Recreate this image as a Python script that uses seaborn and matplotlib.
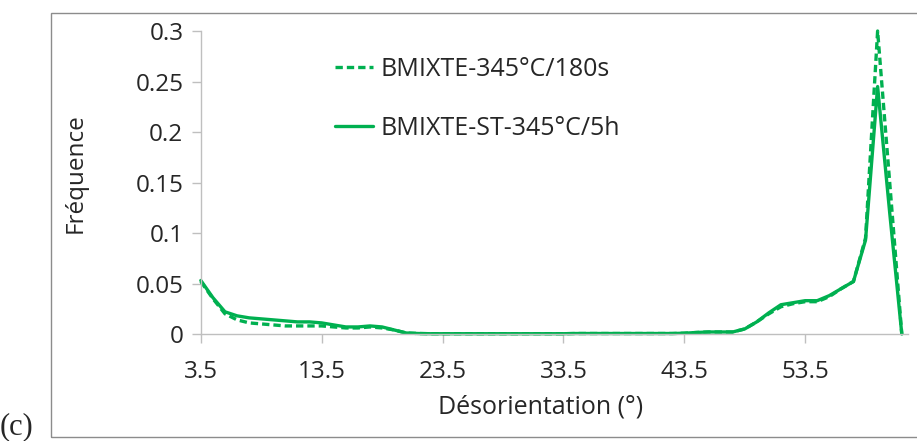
import numpy as np
import pandas as pd
import matplotlib
matplotlib.use("Agg")
import matplotlib.pyplot as plt
import seaborn as sns
from matplotlib.patches import Rectangle

# -------------------------------
# Data
# -------------------------------
angles = np.arange(3.5, 62.0, 1.0)  # 3.5 ... 61.5

freq_180s = [0.052, 0.035, 0.020, 0.014, 0.011, 0.010, 0.009, 0.008, 0.008, 0.008,
             0.008, 0.007, 0.006, 0.006, 0.007, 0.006, 0.004, 0.001, 0.0005, 0.0003,
             0.0003, 0.0003, 0.0003, 0.0003, 0.0003, 0.0003, 0.0003, 0.0003, 0.0003, 0.0003,
             0.0003, 0.0005, 0.0005, 0.0005, 0.0005, 0.0005, 0.0005, 0.0005, 0.0005, 0.0005,
             0.0008, 0.0015, 0.002, 0.002, 0.002, 0.005, 0.012, 0.020, 0.027, 0.030,
             0.032, 0.032, 0.037, 0.045, 0.052, 0.095, 0.300, 0.150, 0.0]

freq_5h = [0.053, 0.036, 0.022, 0.018, 0.016, 0.015, 0.014, 0.013, 0.012, 0.012,
           0.011, 0.009, 0.007, 0.007, 0.008, 0.007, 0.004, 0.001, 0.0005, 0.0003,
           0.0003, 0.0003, 0.0003, 0.0003, 0.0003, 0.0003, 0.0003, 0.0003, 0.0003, 0.0003,
           0.0003, 0.0005, 0.0005, 0.0005, 0.0005, 0.0005, 0.0005, 0.0005, 0.0005, 0.0005,
           0.0008, 0.0015, 0.002, 0.002, 0.002, 0.005, 0.012, 0.021, 0.029, 0.031,
           0.033, 0.033, 0.038, 0.045, 0.052, 0.093, 0.245, 0.120, 0.0]

label_180s = "BMIXTE-345°C/180s"
label_5h = "BMIXTE-ST-345°C/5h"
xticks = [3.5, 13.5, 23.5, 33.5, 43.5, 53.5]
yticks = [0, 0.05, 0.1, 0.15, 0.2, 0.25, 0.3]
ytick_labels = ["0", "0.05", "0.1", "0.15", "0.2", "0.25", "0.3"]

df = pd.DataFrame({"angle": angles, "f180": freq_180s, "f5h": freq_5h})

# -------------------------------
# Plot
# -------------------------------
sns.set_style("white")
plt.rcParams["font.family"] = ["Open Sans", "DejaVu Sans"]

green = "#00B050"
fig = plt.figure(figsize=(9.17, 4.41), dpi=100)
ax = fig.add_axes([0.219, 0.2426, 0.771, 0.6871])

sns.lineplot(data=df, x="angle", y="f180", ax=ax, color=green, lw=2.4,
             linestyle=(0, (2.2, 1.2)), label=label_180s, clip_on=False)
sns.lineplot(data=df, x="angle", y="f5h", ax=ax, color=green, lw=2.4,
             label=label_5h, clip_on=False)

ax.set_xlim(3.5, 62)
ax.set_ylim(0, 0.3)
ax.set_xticks(xticks)
ax.set_xticklabels([str(t) for t in xticks])
ax.set_yticks(yticks)
ax.set_yticklabels(ytick_labels)

for s in ["top", "right"]:
    ax.spines[s].set_visible(False)
for s in ["left", "bottom"]:
    ax.spines[s].set_color("#bfbfbf")
    ax.spines[s].set_linewidth(1)

ax.tick_params(axis="x", bottom=True, direction="out", length=6.5, width=1,
               color="#bfbfbf", labelsize=17.5, pad=12)
ax.tick_params(axis="y", left=True, direction="out", length=6.5, width=1,
               color="#bfbfbf", labelsize=17.5, pad=6)

ax.set_xlabel("Désorientation (°)", fontsize=18)
ax.set_ylabel("Fréquence", fontsize=17.5)
ax.xaxis.set_label_coords(0.48, -0.2)
ax.yaxis.set_label_coords(-0.16, 0.53)

leg = ax.legend(loc="upper left", bbox_to_anchor=(0.158, 0.99), frameon=False,
                fontsize=18, handlelength=1.5, handletextpad=0.32,
                labelspacing=1.38)

# outer frame and panel letter
fig.patches.append(Rectangle((51 / 917, 4 / 441), 870 / 917, 424 / 441,
                             transform=fig.transFigure, fill=False,
                             edgecolor="#8c8c8c", lw=1))
fig.text(0.0, 0.0, "(c)", fontsize=22, family="Liberation Serif",
         ha="left", va="bottom")

plt.savefig("out.png", dpi=100)
